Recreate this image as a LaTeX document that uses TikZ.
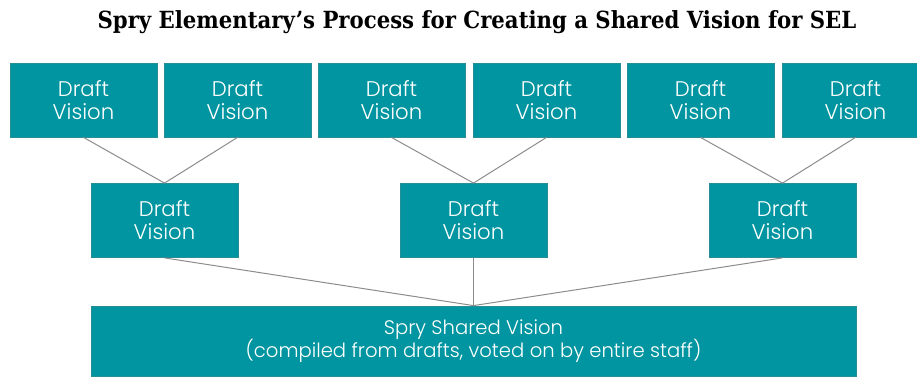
\documentclass[tikz,border=0pt]{standalone}
\usepackage{fontspec}
\setmainfont{Poppins Light}
\newfontfamily\titlefont{DejaVu Serif Condensed}
\definecolor{visionteal}{RGB}{0,149,160}
\definecolor{edgegray}{RGB}{140,140,140}
\tikzset{
    draftbox/.style = {fill=visionteal, draw=visionteal!70!gray, line width=0.4pt,
        minimum width=73.5pt, minimum height=37pt, inner sep=0pt,
        align=center, text=white, font=\fontsize{10.6}{11.5}\selectfont},
    link/.style = {draw=edgegray, line width=0.5pt}
}

\begin{document}
\begin{tikzpicture}[x=0.5pt, y=-0.5pt]
    \useasboundingbox (0,0) rectangle (917,378);

    \node[font=\titlefont\bfseries\fontsize{11.8}{13}\selectfont] (title) at (477,22)
        {Spry Elementary’s Process for Creating a Shared Vision for SEL};

    % first round of drafts
    \node[draftbox] (T1) at (83.5,100) {Draft\\Vision};
    \node[draftbox] (T2) at (237.5,100) {Draft\\Vision};
    \node[draftbox] (T3) at (391.5,100) {Draft\\Vision};
    \node[draftbox] (T4) at (546.5,100) {Draft\\Vision};
    \node[draftbox] (T5) at (700.5,100) {Draft\\Vision};
    \node[draftbox] (T6) at (855.5,100) {Draft\\Vision};

    % merged drafts
    \node[draftbox] (M1) at (164.5,220.5) {Draft\\Vision};
    \node[draftbox] (M2) at (473.5,220.5) {Draft\\Vision};
    \node[draftbox] (M3) at (782.5,220.5) {Draft\\Vision};

    \node[draftbox, minimum width=382.5pt, minimum height=35pt,
        font=\fontsize{9.8}{11.8}\selectfont] (S) at (473.5,341)
        {Spry Shared Vision\\(compiled from drafts, voted on by entire staff)};

    \draw[link] (T1.south)--(M1.north)--(T2.south);
    \draw[link] (T3.south)--(M2.north)--(T4.south);
    \draw[link] (T5.south)--(M3.north)--(T6.south);

    \draw[link] (M1.south)--(S.north)--(M3.south);
    \draw[link] (M2.south)--(S.north);
\end{tikzpicture}
\end{document}
